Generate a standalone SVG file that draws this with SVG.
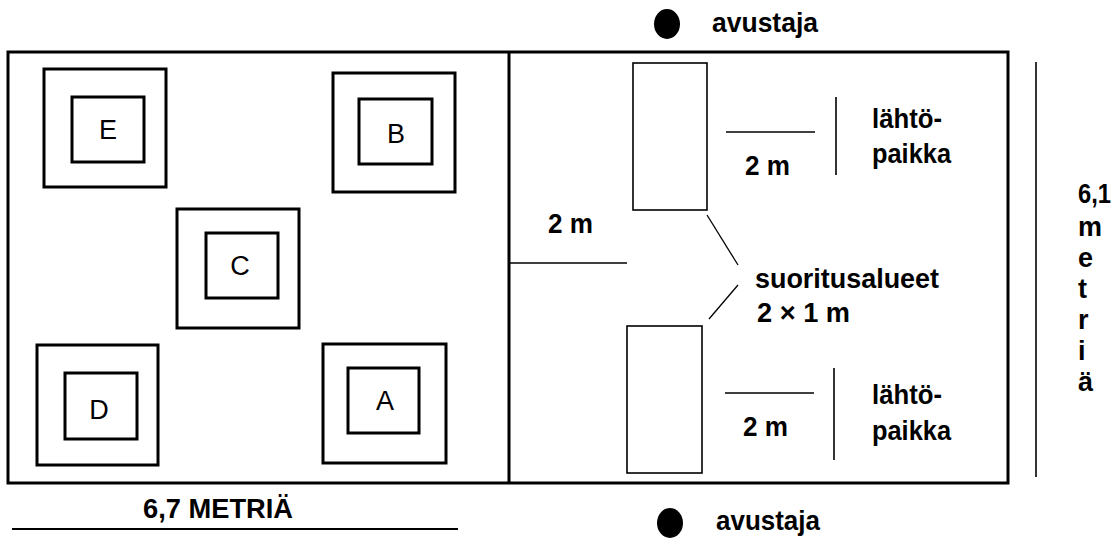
<svg xmlns="http://www.w3.org/2000/svg" width="1119" height="539" viewBox="0 0 1119 539">
<style>
.bold{stroke:#000;stroke-width:3;fill:none}
.thin{stroke:#000;stroke-width:1.6;fill:none}
.diag{stroke:#000;stroke-width:1.3;fill:none}
.lbl{font-family:"Liberation Sans",Arial,sans-serif;font-size:27px;fill:#000;text-anchor:middle}
.t{font-family:"Liberation Sans",Arial,sans-serif;font-size:27px;font-weight:bold;fill:#000}
</style>
<rect width="1119" height="539" fill="#fff"/>
<g id="field">
<rect class="bold" x="8" y="52" width="1000" height="431"/>
<line class="bold" x1="509" y1="52" x2="509" y2="483"/>
</g>
<g id="E"><rect class="bold" x="44" y="69" width="122" height="118"/><rect class="bold" x="72" y="97" width="72" height="65"/><text class="lbl" x="108" y="139">E</text></g>
<g id="B"><rect class="bold" x="333" y="73" width="122" height="119"/><rect class="bold" x="359" y="99" width="73" height="65"/><text class="lbl" x="396" y="143">B</text></g>
<g id="C"><rect class="bold" x="177" y="209" width="122" height="119"/><rect class="bold" x="206" y="233" width="72" height="65"/><text class="lbl" x="240" y="275">C</text></g>
<g id="D"><rect class="bold" x="37" y="345" width="121" height="120"/><rect class="bold" x="65" y="373" width="72" height="66"/><text class="lbl" x="99" y="419">D</text></g>
<g id="A"><rect class="bold" x="323" y="344" width="123" height="119"/><rect class="bold" x="348" y="368" width="71" height="65"/><text class="lbl" x="385" y="410">A</text></g>
<g id="area-top"><rect class="thin" x="633" y="63" width="74" height="147"/></g>
<g id="area-bottom"><rect class="thin" x="627" y="326" width="75" height="147"/></g>
<g id="helper-top"><ellipse cx="667" cy="24" rx="13" ry="15" fill="#000"/><text class="t" x="712" y="32" textLength="106" lengthAdjust="spacingAndGlyphs">avustaja</text></g>
<g id="helper-bottom"><ellipse cx="670" cy="523" rx="13" ry="15" fill="#000"/><text class="t" x="716" y="530" textLength="104" lengthAdjust="spacingAndGlyphs">avustaja</text></g>
<g id="connectors">
<line class="thin" x1="510" y1="263" x2="627" y2="263"/>
<line class="thin" x1="726" y1="132" x2="815" y2="132"/>
<line class="thin" x1="836" y1="97" x2="836" y2="175"/>
<line class="thin" x1="725" y1="393" x2="814" y2="393"/>
<line class="thin" x1="834" y1="368" x2="834" y2="460"/>
<line class="diag" x1="707" y1="215" x2="738" y2="265"/>
<line class="diag" x1="738" y1="285" x2="709" y2="319"/>
<line class="thin" x1="1036" y1="62" x2="1036" y2="477"/>
<line x1="12" y1="529" x2="458" y2="529" stroke="#000" stroke-width="2"/>
</g>
<g id="labels">
<text class="t" x="548" y="233" textLength="45" lengthAdjust="spacingAndGlyphs">2 m</text>
<text class="t" x="745" y="175" textLength="45" lengthAdjust="spacingAndGlyphs">2 m</text>
<text class="t" x="743" y="436" textLength="45" lengthAdjust="spacingAndGlyphs">2 m</text>
<text class="t" x="872" y="128" textLength="70" lengthAdjust="spacingAndGlyphs">lähtö-</text>
<text class="t" x="872" y="163" textLength="79" lengthAdjust="spacingAndGlyphs">paikka</text>
<text class="t" x="872" y="404" textLength="70" lengthAdjust="spacingAndGlyphs">lähtö-</text>
<text class="t" x="872" y="440" textLength="79" lengthAdjust="spacingAndGlyphs">paikka</text>
<text class="t" x="755" y="288" textLength="184" lengthAdjust="spacingAndGlyphs">suoritusalueet</text>
<text class="t" x="757" y="322" textLength="93" lengthAdjust="spacingAndGlyphs">2 × 1 m</text>
<text class="t" x="1078" y="203" textLength="33" lengthAdjust="spacingAndGlyphs">6,1</text>
<text class="t" x="1078" y="236">m</text>
<text class="t" x="1078" y="267">e</text>
<text class="t" x="1078" y="298">t</text>
<text class="t" x="1078" y="329">r</text>
<text class="t" x="1078" y="360">i</text>
<text class="t" x="1078" y="391">ä</text>
<text class="t" x="143" y="518" textLength="150" lengthAdjust="spacingAndGlyphs">6,7 METRIÄ</text>
</g>
</svg>
